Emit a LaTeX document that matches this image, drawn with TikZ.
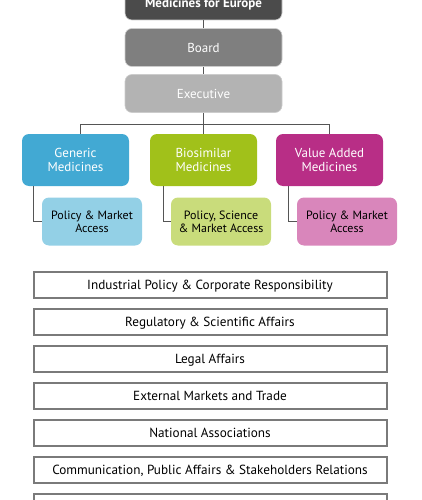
\documentclass[tikz,border=0pt]{standalone}
\usepackage{fontspec}
\usepackage{xcolor}
\setmainfont{PT Sans}
\usetikzlibrary{positioning}

\definecolor{medgray}{HTML}{4B4B4B}
\definecolor{boardgray}{HTML}{7F7F7F}
\definecolor{execgray}{HTML}{B3B3B3}
\definecolor{genblue}{HTML}{42A9D3}
\definecolor{biogreen}{HTML}{A1C11A}
\definecolor{valmag}{HTML}{B82E86}
\definecolor{genlight}{HTML}{93D0E6}
\definecolor{biolight}{HTML}{C9DC7B}
\definecolor{vallight}{HTML}{D986BB}
\definecolor{linkgray}{HTML}{555555}

\begin{document}
\begin{tikzpicture}[x=1pt, y=-1pt,
  govbox/.style={rounded corners=7pt, minimum width=157pt, minimum height=38pt,
    text=white, draw=black!20, line width=0.6pt, font=\fontsize{13}{15}\selectfont},
  unitbox/.style={rounded corners=7pt, minimum width=107pt, minimum height=52pt,
    text=white, align=center, font=\fontsize{13}{14.3}\selectfont},
  subbox/.style={rounded corners=7pt, minimum width=100pt, minimum height=48pt,
    text=black, align=center, font=\fontsize{12}{12.7}\selectfont},
  deptbox/.style={draw=black!52, line width=2pt, minimum width=353pt,
    minimum height=26pt, text depth=0pt, font=\fontsize{13.2}{15}\selectfont},
  link/.style={draw=linkgray, line width=0.9pt}]
\useasboundingbox (0,0) rectangle (421,500);
\clip (0,0) rectangle (421,500);

% governance
\node[govbox, fill=medgray, minimum height=32pt, font=\bfseries\fontsize{13}{15}\selectfont] (med) at (203.5,4) {Medicines for Europe};
\node[govbox, fill=boardgray] (board) at (203.5,47.5) {Board};
\node[govbox, fill=execgray] (exec) at (203.5,93.5) {Executive};

% sector groups
\node[unitbox, fill=genblue] (generic) at (75.5,160) {Generic\\Medicines};
\node[unitbox, fill=biogreen] (biosim) at (203.5,160) {Biosimilar\\Medicines};
\node[unitbox, fill=valmag] (valadd) at (329.5,160) {Value Added\\Medicines};

\node[subbox, fill=genlight] (genpol) at (92,221.5) {Policy \& Market\\Access};
\node[subbox, fill=biolight] (biopol) at (221,221.5) {Policy, Science\\\& Market Access};
\node[subbox, fill=vallight] (valpol) at (347,221.5) {Policy \& Market\\Access};

% connectors
\coordinate (busL) at (80,124);
\coordinate (busR) at (329,124);
\draw[link] (med) -- (board);
\draw[link] (board) -- (exec);
\draw[link] (exec) -- (biosim);
\draw[link] (busL) -- (busR);
\draw[link] (busL) -- (busL |- generic.north);
\draw[link] (busR) -- (busR |- valadd.north);
\draw[link] ([xshift=12pt]generic.south west) |- (genpol.west);
\draw[link] ([xshift=14pt]biosim.south west) |- (biopol.west);
\draw[link] ([xshift=12.5pt]valadd.south west) |- (valpol.west);

% departments
\node[deptbox] (dept1) at (210,284.5) {Industrial Policy \& Corporate Responsibility};
\node[deptbox] (dept2) at (210,321.5) {Regulatory \& Scientific Affairs};
\node[deptbox] (dept3) at (210,358.5) {Legal Affairs};
\node[deptbox] (dept4) at (210,395.5) {External Markets and Trade};
\node[deptbox] (dept5) at (210,432.5) {National Associations};
\node[deptbox] (dept6) at (210,469.5) {Communication, Public Affairs \& Stakeholders Relations};
\node[deptbox] (dept7) at (210,507) {};
\end{tikzpicture}
\end{document}
